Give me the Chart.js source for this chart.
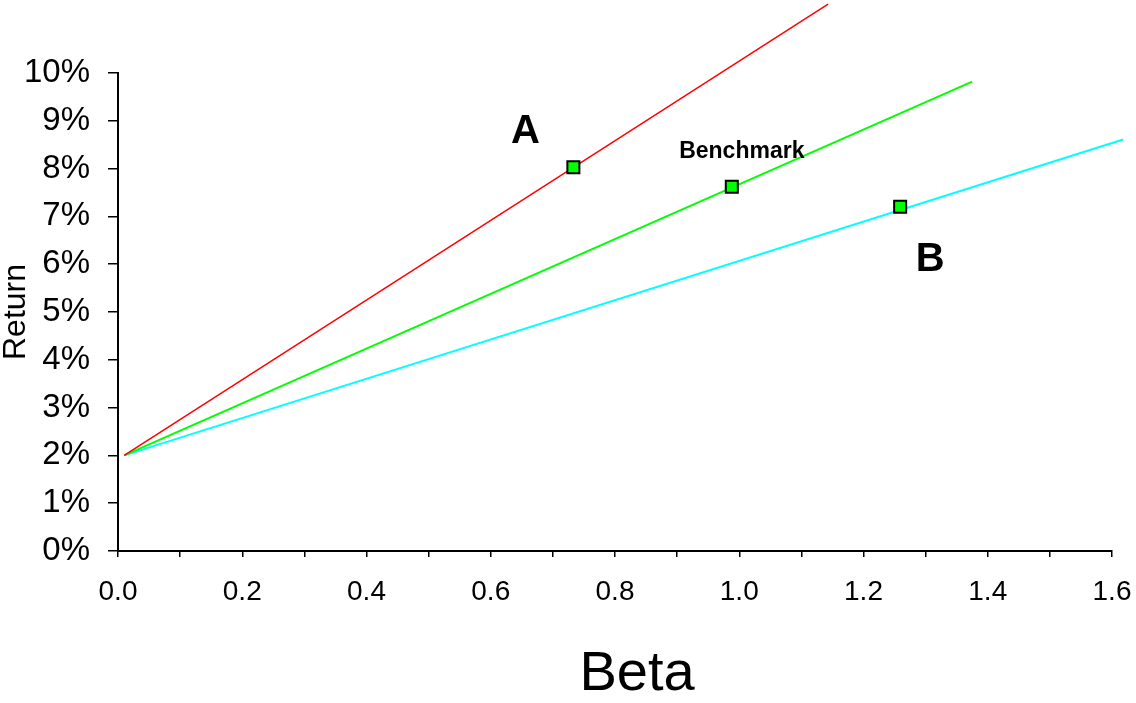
<!DOCTYPE html>
<html>
<head>
<meta charset="utf-8">
<script src="https://cdn.jsdelivr.net/npm/chart.js@4"></script>
<style>
  html, body { margin: 0; padding: 0; background: #fff; }
  #wrap { width: 1136px; height: 703px; }
</style>
</head>
<body>
<div id="wrap"><canvas id="grafica"></canvas></div>
<script>
// datos (beta, retorno en %)
const series = ["A", "Benchmark", "B"];
const colores = ["#ff0000", "#00ff00", "#00ffff"];
const betaInicio = 0.01;
const retornoInicio = 2.0;
const betaPunto = [0.733, 0.988, 1.259];
const retornoPunto = [8.03, 7.62, 7.20];
const betaFin = [1.143, 1.375, 1.618];
const retornoFin = [11.44, 9.82, 8.61];
const ticksY = [0, 1, 2, 3, 4, 5, 6, 7, 8, 9, 10];
const tituloX = "Beta";
const tituloY = "Return";

const fuente = "'Liberation Sans', Arial, Helvetica, sans-serif";

// desplazamiento de cada etiqueta respecto a su punto (px)
const estiloEtiquetas = [
  { dx: -48, dy: -35, size: 40 },
  { dx: 10, dy: -35, size: 23 },
  { dx: 30, dy: 53, size: 40 }
];

const etiquetasPlugin = {
  id: "etiquetas",
  afterDatasetsDraw(chart) {
    const meta = chart.getDatasetMeta(0);
    const ctx = chart.ctx;
    ctx.save();
    ctx.fillStyle = "#000";
    ctx.textAlign = "center";
    ctx.textBaseline = "middle";
    meta.data.forEach((p, i) => {
      const e = estiloEtiquetas[i];
      ctx.font = "bold " + e.size + "px " + fuente;
      ctx.fillText(series[i], p.x + e.dx, p.y + e.dy);
    });
    // titulo del eje x, algo corrido a la derecha como en el original
    ctx.font = "56px " + fuente;
    ctx.fillText(tituloX, 637, 675);
    ctx.restore();
  }
};

const datasets = [{
  label: "puntos",
  data: series.map((s, i) => ({ x: betaPunto[i], y: retornoPunto[i] })),
  pointStyle: "rect",
  pointRadius: 8.5,
  pointBackgroundColor: "#00ff00",
  pointBorderColor: "#000",
  pointBorderWidth: 2,
  showLine: false,
  order: 0,
  clip: false
}];

series.forEach((s, i) => {
  datasets.push({
    label: s,
    data: [{ x: betaInicio, y: retornoInicio }, { x: betaFin[i], y: retornoFin[i] }],
    showLine: true,
    borderColor: colores[i],
    borderWidth: i === 0 ? 1.5 : 2,
    pointRadius: 0,
    order: 1,
    clip: false
  });
});

new Chart(document.getElementById("grafica"), {
  type: "scatter",
  data: { datasets: datasets },
  options: {
    responsive: true,
    maintainAspectRatio: false,
    animation: false,
    layout: { padding: { top: 73, right: 24, left: 0, bottom: 0 } },
    plugins: { legend: { display: false }, tooltip: { enabled: false } },
    scales: {
      x: {
        type: "linear",
        min: 0,
        max: 1.6,
        afterFit: (scale) => {
          scale.height = 152;
          scale.paddingLeft = 0;
          scale.paddingRight = 0;
        },
        ticks: {
          stepSize: 0.1,
          autoSkip: false,
          maxRotation: 0,
          color: "#000",
          padding: 18,
          font: { family: fuente, size: 28 },
          callback: (v, i) => (i % 2 === 0 ? Number(v).toFixed(1) : "")
        },
        grid: { drawOnChartArea: false, drawTicks: true, tickLength: 6, color: "#000", lineWidth: 1.5 },
        border: { display: true, color: "#000", width: 2 }
      },
      y: {
        type: "linear",
        min: 0,
        max: 10,
        afterFit: (scale) => {
          scale.width = 118;
          scale.paddingTop = 0;
          scale.paddingBottom = 0;
        },
        afterBuildTicks: (scale) => { scale.ticks = ticksY.map(v => ({ value: v })); },
        ticks: {
          color: "#000",
          padding: 18,
          font: { family: fuente, size: 33 },
          callback: (v) => v + "%"
        },
        grid: { drawOnChartArea: false, drawTicks: true, tickLength: 10, color: "#000", lineWidth: 1.5 },
        border: { display: true, color: "#000", width: 2 },
        title: {
          display: true,
          text: tituloY,
          color: "#000",
          font: { family: fuente, size: 32, lineHeight: 1 },
          padding: { top: 0, bottom: 0 }
        }
      }
    }
  },
  plugins: [etiquetasPlugin]
});
</script>
</body>
</html>
